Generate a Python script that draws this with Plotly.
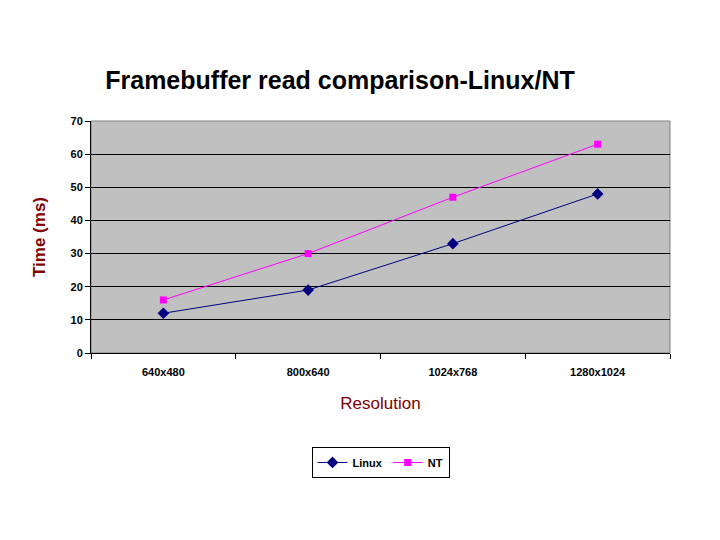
import plotly.graph_objects as go

categories = ["640x480", "800x640", "1024x768", "1280x1024"]
linux = [12, 19, 33, 48]
nt = [16, 30, 47, 63]
y_ticks = [0, 10, 20, 30, 40, 50, 60, 70]

fig = go.Figure()
fig.add_trace(go.Scatter(
    x=categories, y=linux, name="<b>Linux</b>", mode="lines+markers",
    line=dict(color="#000080", width=1),
    marker=dict(symbol="diamond", size=9, color="#000080"),
))
fig.add_trace(go.Scatter(
    x=categories, y=nt, name="<b>NT</b>", mode="lines+markers",
    line=dict(color="#FF00FF", width=1),
    marker=dict(symbol="square", size=7, color="#FF00FF"),
))

# page body adds an 8px offset; margins are compensated for it
fig.update_layout(
    width=720, height=540,
    paper_bgcolor="white",
    plot_bgcolor="#C0C0C0",
    margin=dict(l=83, r=58, t=113, b=195),
    font=dict(family="Liberation Sans, Arial, sans-serif", color="black"),
    title=dict(
        text="<b>Framebuffer read comparison-Linux/NT</b>",
        x=332 / 720, xanchor="center",
        y=1 - 72 / 540, yanchor="middle",
        font=dict(size=25, color="black"),
    ),
    xaxis=dict(
        type="category",
        range=[-0.5, 3.5],
        showgrid=False,
        showline=True, linecolor="black", linewidth=1,
        ticks="outside", ticklen=5, tickcolor="black",
        tickson="boundaries",
        tickfont=dict(size=11, color="black", family="Liberation Sans, Arial"),
        tickprefix="<b>", ticksuffix="</b>",
        ticklabelstandoff=9,
        title=dict(text="Resolution", font=dict(size=17, color="#800000"), standoff=19),
    ),
    yaxis=dict(
        range=[0, 70],
        tickvals=y_ticks,
        ticktext=["<b>%d</b>" % v for v in y_ticks],
        showgrid=True, gridcolor="black", gridwidth=1,
        zeroline=False,
        showline=True, linecolor="black", linewidth=1,
        ticks="outside", ticklen=5, tickcolor="black",
        tickfont=dict(size=11, color="black", family="Liberation Sans, Arial"),
        title=dict(text="<b>Time (ms)</b>", font=dict(size=17, color="#800000"), standoff=20),
    ),
    legend=dict(
        orientation="h",
        x=0.5, xanchor="center",
        y=-0.405, yanchor="top",
        bordercolor="black", borderwidth=1,
        font=dict(size=11, color="black"),
        itemwidth=30,
        tracegroupgap=0,
    ),
    shapes=[dict(
        type="rect", xref="paper", yref="paper",
        x0=0, x1=1, y0=0, y1=1,
        line=dict(color="#808080", width=1),
        layer="below",
    )],
)

fig.write_html("out.html")
